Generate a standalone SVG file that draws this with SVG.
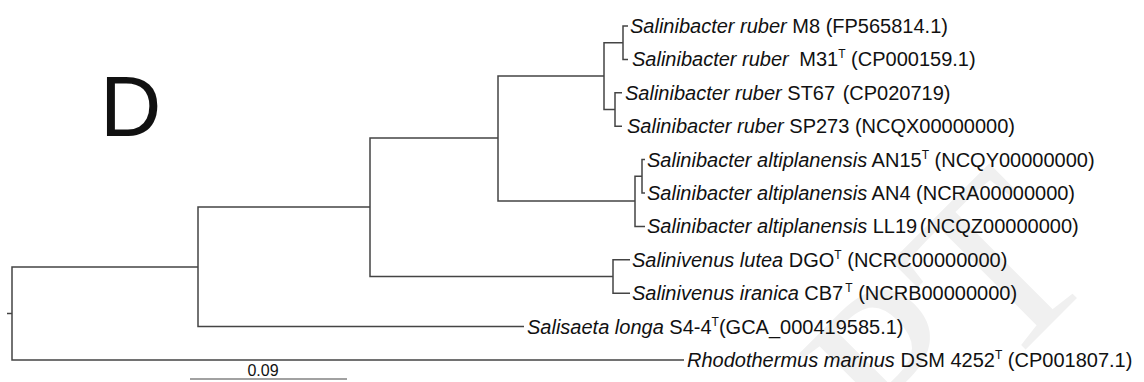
<svg xmlns="http://www.w3.org/2000/svg" width="1144" height="382" viewBox="0 0 1144 382">
  <style>
    text { font-family: "Liberation Sans", Arial, Helvetica, sans-serif; font-size: 20px; fill: #111; }
    .sp { font-style: italic; }
    .sup { font-size: 12px; }
    .branch { fill: none; stroke: #444; stroke-width: 1.5; }
    .wm { font-family: "Liberation Serif", "Times New Roman", serif; font-size: 240px; fill: #f0f0f0; }
  </style>

  <!-- faint background watermark -->
  <text class="wm" x="0" y="0" transform="translate(905,470) rotate(-45)">PT</text>

  <!-- panel letter -->
  <text id="panel-label" x="100" y="136" style="font-size:85px">D</text>

  <!-- tree branches (rectangular cladogram) -->
  <g id="connectors" class="branch">
    <path d="M7,313.5 H12"/>
    <!-- root -->
    <path d="M198,267 H12 V360 H684"/>
    <!-- ingroup node -->
    <path d="M370,207 H198 V326.6 H524"/>
    <!-- Salinibacter + Salinivenus -->
    <path d="M498,138 H370 V276.5 H613"/>
    <!-- Salinibacter -->
    <path d="M604,76 H498 V201 H635"/>
    <!-- S. ruber -->
    <path d="M623,42.7 H604 V109.5 H615"/>
    <path d="M628,26 H623 V59.4 H628"/>
    <path d="M622,92.8 H615 V126.2 H622"/>
    <!-- S. altiplanensis -->
    <path d="M642,176.3 H635 V226.4 H645"/>
    <path d="M645,159.6 H642 V193 H645"/>
    <!-- Salinivenus -->
    <path d="M630,259.8 H613 V293.2 H630"/>
  </g>

  <g id="leaf-ruber-M8">
    <text x="630" y="33"><tspan class="sp">Salinibacter ruber</tspan> M8 (FP565814.1)</text>
  </g>
  <g id="leaf-ruber-M31">
    <text x="632" y="66.4"><tspan class="sp">Salinibacter ruber</tspan><tspan dx="5"> M31</tspan><tspan class="sup" dy="-8">T</tspan><tspan dy="8"> (CP000159.1)</tspan></text>
  </g>
  <g id="leaf-ruber-ST67">
    <text x="625" y="99.8"><tspan class="sp">Salinibacter ruber</tspan> ST67 <tspan dx="2">(CP020719)</tspan></text>
  </g>
  <g id="leaf-ruber-SP273">
    <text x="627" y="133.2"><tspan class="sp">Salinibacter ruber</tspan> SP273 (NCQX00000000)</text>
  </g>
  <g id="leaf-alti-AN15">
    <text x="647" y="166.6"><tspan class="sp">Salinibacter altiplanensis</tspan> AN15<tspan class="sup" dy="-8">T</tspan><tspan dy="8"> (NCQY00000000)</tspan></text>
  </g>
  <g id="leaf-alti-AN4">
    <text x="647" y="200"><tspan class="sp">Salinibacter altiplanensis</tspan> AN4 (NCRA00000000)</text>
  </g>
  <g id="leaf-alti-LL19">
    <text x="647" y="233.4"><tspan class="sp">Salinibacter altiplanensis</tspan> LL19 <tspan dx="-3">(NCQZ00000000)</tspan></text>
  </g>
  <g id="leaf-lutea">
    <text x="632" y="266.8"><tspan class="sp">Salinivenus lutea</tspan> DGO<tspan class="sup" dy="-8">T</tspan><tspan dy="8"> (NCRC00000000)</tspan></text>
  </g>
  <g id="leaf-iranica">
    <text x="632" y="300.2"><tspan class="sp">Salinivenus iranica</tspan> CB7<tspan class="sup" dy="-8" dx="2">T</tspan><tspan dy="8"> (NCRB00000000)</tspan></text>
  </g>
  <g id="leaf-salisaeta">
    <text x="527" y="333.6"><tspan class="sp">Salisaeta longa</tspan> S4-4<tspan class="sup" dy="-8">T</tspan><tspan dy="8">(GCA_000419585.1)</tspan></text>
  </g>
  <g id="leaf-rhodothermus">
    <text x="687" y="367"><tspan class="sp">Rhodothermus marinus</tspan> DSM 4252<tspan class="sup" dy="-8">T</tspan><tspan dy="8"> (CP001807.1)</tspan></text>
  </g>

  <!-- scale bar -->
  <g id="scale-bar">
    <line x1="190" y1="379" x2="347" y2="379" stroke="#444" stroke-width="1.2"/>
    <text x="263" y="376" text-anchor="middle" style="font-size:16px">0.09</text>
  </g>
</svg>
